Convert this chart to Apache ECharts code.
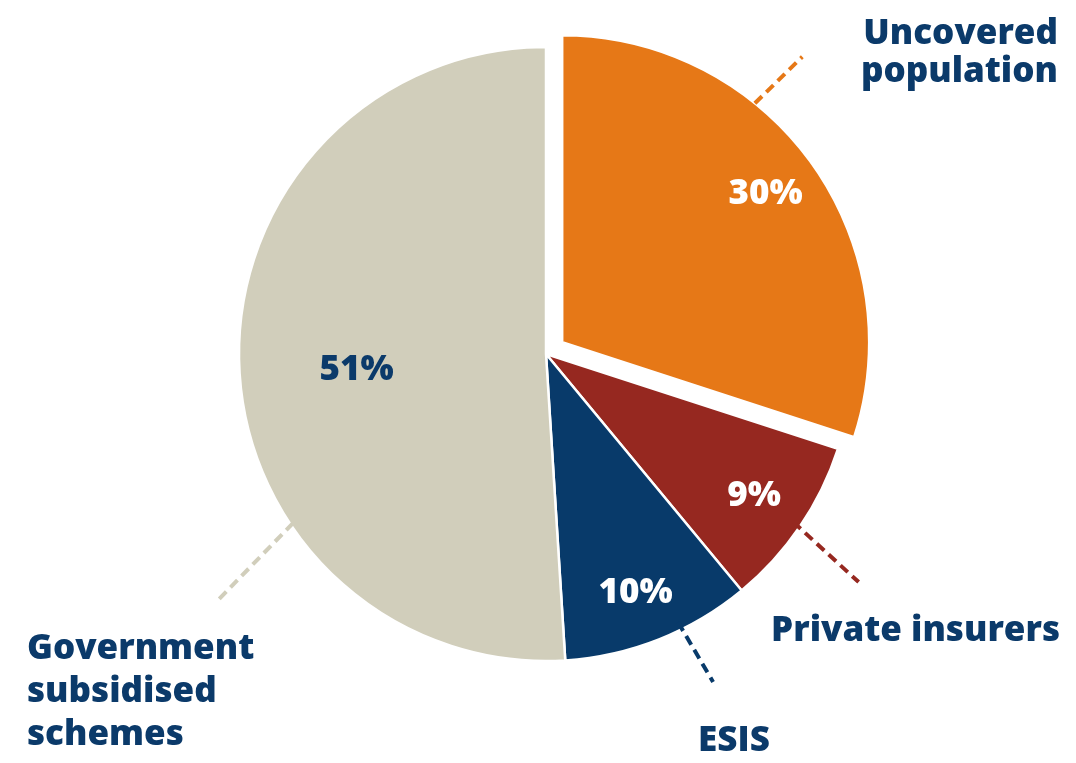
<!DOCTYPE html>
<html><head><meta charset="utf-8">
<script src="https://cdn.jsdelivr.net/npm/echarts@6/dist/echarts.min.js"></script>
<style>html,body{margin:0;padding:0;background:#fff}#chart{width:1076px;height:763px}</style>
</head><body><div id="chart"></div>
<script>
const categories = ['Uncovered population', 'Private insurers', 'ESIS', 'Government subsidised schemes'];
const labelTexts = ['Uncovered\npopulation', 'Private insurers', 'ESIS', 'Government\nsubsidised\nschemes'];
const shares = [30, 9, 10, 51];
const sliceColors = ['#e67817', '#962820', '#083a6a', '#d1cebb'];
const percentColors = ['#ffffff', '#ffffff', '#ffffff', '#0b3a6a'];

const CX = 546, CY = 354, R = 307, EXPLODE = 20;
const NAVY = '#0b3a6a';
const FONT = 'Open Sans';

// placement of the outer annotations (layout only):
// line = [[fraction along slice, radius] start, [fraction, radius] end]
const outerPlacement = [
  {x: 1058, y: 53, align: 'right', lineHeight: 38, line: [[0.360, 307], [0.371, 373]]},
  {x: 1060, y: 631, align: 'right', lineHeight: 40, line: [[0.5, 299], [0.559, 387]]},
  {x: 734, y: 741, align: 'center', lineHeight: 40, line: [[0.372, 299], [0.35, 368]]},
  {x: 27, y: 692, align: 'left', lineHeight: 43, line: [[0.326, 304], [0.309, 409]]}
];
// small nudges of the percentage labels (layout only)
const percentOffsets = [[0, 6], [0, 1], [-3, 5], [4, 10]];

const total = shares.reduce((a, b) => a + b, 0);
const startAngles = [];
let acc = 0;
shares.forEach(v => { startAngles.push(acc / total * 360); acc += v; });

const baseData = categories.map((c, i) => ({
  name: c, value: shares[i], selected: i === 0
}));

const chart = echarts.init(document.getElementById('chart'), null, {renderer: 'canvas'});

function labelRing(radius, showIdx) {
  return {
    type: 'pie', radius: radius, center: [CX, CY], startAngle: 90, clockwise: true,
    selectedMode: 'single', selectedOffset: EXPLODE, silent: true, animation: false,
    avoidLabelOverlap: false, z: 5,
    itemStyle: {color: 'rgba(0,0,0,0)', borderWidth: 0},
    emphasis: {disabled: true},
    labelLine: {show: false},
    data: baseData.map((d, i) => ({
      name: d.name, value: d.value, selected: d.selected,
      label: {
        show: showIdx.indexOf(i) >= 0, position: 'inside',
        formatter: p => p.value + '%',
        offset: percentOffsets[i],
        color: percentColors[i], fontFamily: FONT, fontWeight: 800, fontSize: 35
      }
    }))
  };
}

const option = {
  backgroundColor: '#ffffff',
  animation: false,
  series: [
    {
      type: 'pie', radius: [0, R], center: [CX, CY], startAngle: 90, clockwise: true,
      selectedMode: 'single', selectedOffset: EXPLODE, silent: true,
      emphasis: {disabled: true},
      itemStyle: {borderColor: '#ffffff', borderWidth: 2.5},
      label: {show: false}, labelLine: {show: false},
      data: baseData.map((d, i) => ({
        name: d.name, value: d.value, selected: d.selected,
        itemStyle: {color: sliceColors[i]}
      }))
    },
    labelRing([190, R], [0, 1, 2]),
    labelRing([74, R], [3]),
    {
      type: 'pie', radius: [0, R], center: [CX, CY], startAngle: 90, clockwise: true,
      silent: true, avoidLabelOverlap: false, z: 4,
      itemStyle: {color: 'rgba(0,0,0,0)', borderWidth: 0},
      emphasis: {disabled: true},
      label: {
        show: true, position: 'outside', overflow: 'none',
        formatter: p => labelTexts[p.dataIndex],
        color: NAVY, fontFamily: FONT, fontWeight: 800, fontSize: 35
      },
      labelLine: {show: true, length: 20, length2: 0, lineStyle: {width: 4, type: [10, 6]}},
      labelLayout: function (p) {
        const i = p.dataIndex;
        const pl = outerPlacement[i];
        const span = shares[i] / total * 360;
        const mid = (startAngles[i] + span / 2) * Math.PI / 180;
        let cx = CX, cy = CY;
        if (baseData[i].selected) {
          cx += EXPLODE * Math.sin(mid);
          cy -= EXPLODE * Math.cos(mid);
        }
        const pts = pl.line.map(([f, r]) => {
          const a = (startAngles[i] + f * span) * Math.PI / 180;
          return [cx + r * Math.sin(a), cy - r * Math.cos(a)];
        });
        return {x: pl.x, y: pl.y, align: pl.align, verticalAlign: 'middle', labelLinePoints: pts};
      },
      data: baseData.map((d, i) => ({
        name: d.name, value: d.value,
        label: {lineHeight: outerPlacement[i].lineHeight, align: outerPlacement[i].align},
        labelLine: {lineStyle: {color: sliceColors[i], opacity: 1, width: 4, type: [10, 6]}}
      }))
    }
  ]
};
chart.setOption(option);
</script>
</body></html>
